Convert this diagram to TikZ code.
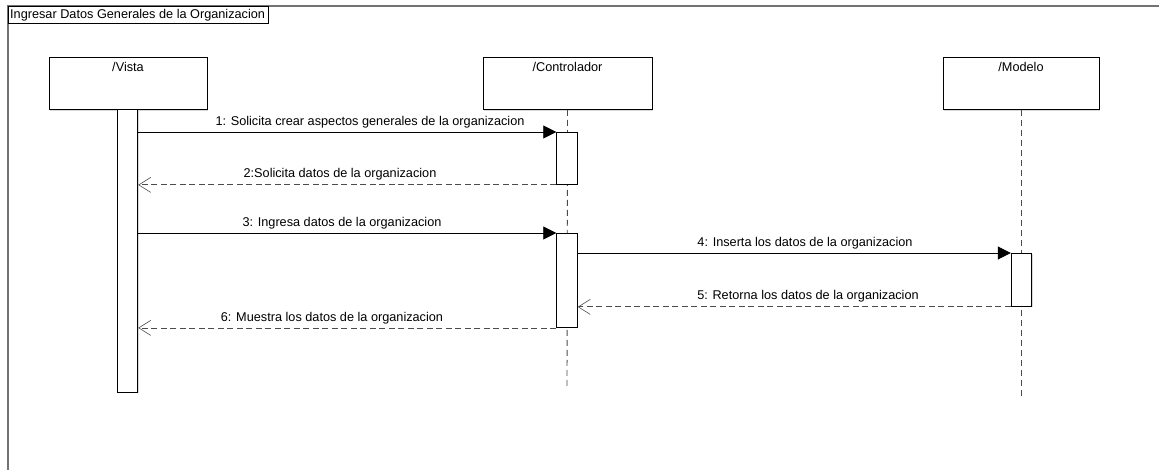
\documentclass[tikz,border=0pt]{standalone}
\usepackage{fontspec}
\setmainfont{Liberation Sans}
\usetikzlibrary{arrows.meta,shadows}

\tikzset{
  lifehead/.style={draw=black, line width=0.9pt, fill=white, minimum width=#1, minimum height=52pt,
    inner sep=0pt, anchor=north,
    drop shadow={shadow xshift=1.2pt, shadow yshift=-1.2pt, fill=black!25, opacity=0.6}},
  headlabel/.style={anchor=north, inner sep=0pt, font=\fontsize{12.7}{14}\selectfont},
  actbar/.style={draw=black, line width=0.9pt, fill=white, minimum width=20.5pt, inner sep=0pt,
    anchor=north, drop shadow={shadow xshift=1pt, shadow yshift=-1pt, fill=black!25, opacity=0.6}},
  lifeline/.style={draw=black!70, line width=0.9pt, dash pattern=on 6pt off 4pt},
  callmsg/.style={draw=black, line width=0.8pt, -{Triangle[length=13pt,width=13pt]}},
  replymsg/.style={draw=black!70, line width=0.8pt, dash pattern=on 6pt off 3.5pt,
    -{Straight Barb[length=12pt,width=15pt,line width=0.6pt]}},
  msglabel/.style={anchor=base, inner sep=0pt, font=\fontsize{12.7}{14}\selectfont}
}

\begin{document}
\begin{tikzpicture}[x=1pt, y=-1pt]
  \useasboundingbox (0,0) rectangle (1159,470);
  \fill[white] (0,0) rectangle (1159,470);

  % interaction frame and its title tab
  \draw[black!55, line width=2pt] (8,480) -- (8,6.5) -- (1170,6.5);
  \node[draw=black, line width=0.8pt, anchor=north west, minimum width=260pt, minimum height=17pt,
        inner sep=0pt] (frametab) at (8,6) {};
  \node[anchor=west, inner sep=0pt, font=\fontsize{12.7}{14}\selectfont] (frametitle)
        at ([xshift=2pt]frametab.west) {Ingresar Datos Generales de la Organizacion};

  % lifeline heads
  \node[lifehead=158pt] (vista) at (128,57) {};
  \node[lifehead=169pt] (ctrl) at (567.5,57) {};
  \node[lifehead=156pt] (modelo) at (1021,57) {};
  \node[headlabel] (vistalbl) at ([yshift=-5pt]vista.north) {/Vista};
  \node[headlabel] (ctrllbl) at ([yshift=-5pt]ctrl.north) {/Controlador};
  \node[headlabel] (modelolbl) at ([yshift=-5pt]modelo.north) {/Modelo};

  % lifeline ends
  \coordinate (ctrlend) at (567,386);
  \coordinate (modeloend) at (1021,396);
  \draw[lifeline] (ctrl.south) -- (ctrlend);
  \draw[lifeline] (modelo.south) -- (modeloend);

  % activation bars
  \node[actbar, minimum height=283pt] (vbar) at (127.5,109) {};
  \node[actbar, minimum height=52pt] (cbarA) at (567,132) {};
  \node[actbar, minimum height=94pt] (cbarB) at (567,233) {};
  \node[actbar, minimum height=53pt] (mbar) at (1021.5,253) {};

  % messages
  \draw[callmsg] (vbar.east |- cbarA.north) -- (cbarA.north west);
  \draw[replymsg] (cbarA.south west) -- (vbar.east |- cbarA.south);
  \draw[callmsg] (vbar.east |- cbarB.north) -- (cbarB.north west);
  \draw[callmsg] (cbarB.east |- mbar.north) -- (mbar.north west);
  \draw[replymsg] (mbar.south west) -- (cbarB.east |- mbar.south);
  \draw[replymsg] (cbarB.south west) -- (vbar.east |- cbarB.south);

  % message labels
  \node[msglabel] (m1) at (370,126) {1: Solicita crear aspectos generales de la organizacion};
  \node[msglabel] (m2) at (340,178) {2:Solicita datos de la organizacion};
  \node[msglabel] (m3) at (342,227) {3: Ingresa datos de la organizacion};
  \node[msglabel] (m4) at (805,247) {4: Inserta los datos de la organizacion};
  \node[msglabel] (m5) at (808,299) {5: Retorna los datos de la organizacion};
  \node[msglabel] (m6) at (332,321) {6: Muestra los datos de la organizacion};
\end{tikzpicture}
\end{document}
